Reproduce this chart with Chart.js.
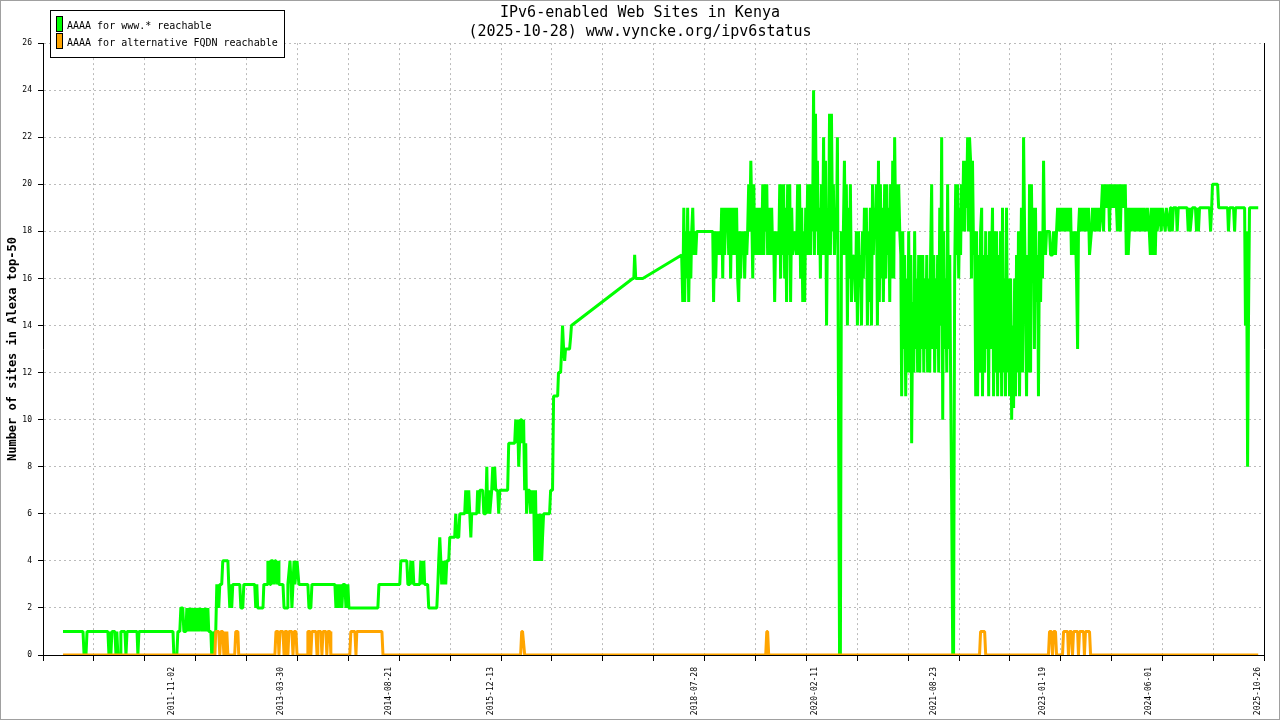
<!DOCTYPE html>
<html>
<head>
<meta charset="utf-8">
<title>IPv6-enabled Web Sites in Kenya</title>
<script src="https://cdn.jsdelivr.net/npm/chart.js@4.4.1/dist/chart.umd.min.js"></script>
<style>
  html, body { margin: 0; padding: 0; background: #fff; }
  canvas { display: block; }
</style>
</head>
<body>
<canvas id="myChart" width="1280" height="720"></canvas>
<script>
const titleLines = ['IPv6-enabled Web Sites in Kenya', '(2025-10-28) www.vyncke.org/ipv6status']
const yTitle = 'Number of sites in Alexa top-50'
const seriesLabels = ['AAAA for www.* reachable', 'AAAA for alternative FQDN reachable']
const seriesColors = ['#00ff00', '#ffa500']
const dateLabels = ['2011-11-02', '2013-03-30', '2014-08-21', '2015-12-13', '2018-07-28', '2020-02-11', '2021-08-23', '2023-01-19', '2024-06-01', '2025-10-26']
const axisStart = '2010-03-07'
const axisEnd = '2025-11-24'
const gridSteps = 24

const wwwDates = [
  '2010-06-09','2010-09-11','2010-09-16','2010-09-25','2010-09-30','2011-01-06','2011-01-11','2011-01-16','2011-01-20','2011-01-25',
  '2011-02-08','2011-02-13','2011-02-17','2011-02-22','2011-03-04','2011-03-08','2011-03-27','2011-04-01','2011-04-06','2011-05-23',
  '2011-05-27','2011-06-01','2011-11-08','2011-11-12','2011-11-26','2011-12-01','2011-12-10','2011-12-15','2011-12-24','2011-12-29',
  '2012-01-08','2012-01-12','2012-01-17','2012-01-26','2012-01-31','2012-02-05','2012-02-14','2012-02-19','2012-02-23','2012-03-04',
  '2012-03-08','2012-03-13','2012-03-23','2012-03-27','2012-04-01','2012-04-10','2012-04-15','2012-04-20','2012-04-24','2012-05-04',
  '2012-05-08','2012-05-13','2012-05-18','2012-05-23','2012-05-27','2012-06-01','2012-06-10','2012-06-15','2012-06-24','2012-06-29',
  '2012-07-23','2012-07-27','2012-08-01','2012-08-06','2012-08-10','2012-08-15','2012-09-17','2012-09-22','2012-10-01','2012-10-06',
  '2012-11-26','2012-12-01','2012-12-06','2012-12-10','2013-01-04','2013-01-08','2013-01-23','2013-01-27','2013-02-06','2013-02-10',
  '2013-02-20','2013-02-24','2013-03-01','2013-03-06','2013-03-11','2013-03-16','2013-03-20','2013-04-08','2013-04-13','2013-04-27',
  '2013-05-01','2013-05-11','2013-05-16','2013-05-20','2013-05-25','2013-05-30','2013-06-03','2013-06-13','2013-06-17','2013-06-22',
  '2013-08-03','2013-08-08','2013-08-17','2013-08-22','2013-12-08','2013-12-13','2013-12-17','2013-12-22','2013-12-27','2013-12-31',
  '2014-01-05','2014-01-10','2014-01-15','2014-01-24','2014-01-29','2014-02-07','2014-02-12','2014-06-28','2014-07-03','2014-10-09',
  '2014-10-14','2014-11-11','2014-11-16','2014-11-25','2014-11-30','2014-12-05','2014-12-09','2014-12-14','2015-01-11','2015-01-16',
  '2015-01-25','2015-01-30','2015-02-03','2015-02-17','2015-02-22','2015-04-01','2015-04-06','2015-04-10','2015-04-15','2015-04-20',
  '2015-04-24','2015-04-29','2015-05-04','2015-05-08','2015-05-13','2015-05-18','2015-05-27','2015-06-01','2015-06-24','2015-06-29',
  '2015-07-04','2015-07-13','2015-07-18','2015-08-10','2015-08-15','2015-08-24','2015-08-29','2015-09-03','2015-09-08','2015-09-12',
  '2015-10-06','2015-10-10','2015-10-15','2015-10-20','2015-11-03','2015-11-08','2015-11-17','2015-11-22','2015-11-26','2015-12-01',
  '2015-12-06','2015-12-15','2015-12-20','2015-12-24','2015-12-29','2016-01-03','2016-01-12','2016-01-17','2016-01-22','2016-02-28',
  '2016-03-04','2016-04-01','2016-04-06','2016-04-10','2016-04-15','2016-04-20','2016-04-24','2016-04-29','2016-05-04','2016-05-08',
  '2016-05-13','2016-05-18','2016-05-23','2016-05-27','2016-06-01','2016-06-10','2016-06-15','2016-06-20','2016-06-24','2016-06-29',
  '2016-07-04','2016-07-08','2016-07-13','2016-07-18','2016-07-23','2016-07-27','2016-08-01','2016-08-06','2016-08-10','2016-08-15',
  '2016-09-12','2016-09-17','2016-09-26','2016-10-01','2016-10-20','2016-10-24','2016-11-03','2016-11-08','2016-11-12','2016-11-17',
  '2016-11-22','2016-11-26','2016-12-15','2016-12-20','2016-12-24','2017-10-08','2017-10-13','2017-10-17','2017-10-22','2017-11-24',
  '2018-05-26','2018-05-31','2018-06-05','2018-06-09','2018-06-14','2018-06-19','2018-06-23','2018-06-28','2018-07-03','2018-07-08',
  '2018-07-12','2018-07-17','2018-07-22','2018-07-26','2018-07-31','2018-08-05','2018-10-19','2018-10-23','2018-10-28','2018-11-02',
  '2018-11-07','2018-11-11','2018-11-21','2018-11-25','2018-11-30','2018-12-05','2018-12-09','2018-12-14','2018-12-19','2018-12-23',
  '2018-12-28','2019-01-02','2019-01-07','2019-01-11','2019-01-16','2019-01-21','2019-01-25','2019-01-30','2019-02-04','2019-02-08',
  '2019-02-13','2019-02-18','2019-02-23','2019-02-27','2019-03-04','2019-03-09','2019-03-14','2019-03-18','2019-03-23','2019-03-28',
  '2019-04-01','2019-04-06','2019-04-11','2019-04-16','2019-04-20','2019-04-25','2019-04-30','2019-05-04','2019-05-09','2019-05-14',
  '2019-05-18','2019-05-23','2019-05-28','2019-06-01','2019-06-06','2019-06-11','2019-06-16','2019-06-20','2019-06-25','2019-06-30',
  '2019-07-04','2019-07-09','2019-07-14','2019-07-18','2019-07-23','2019-07-28','2019-08-01','2019-08-06','2019-08-11','2019-08-16',
  '2019-08-20','2019-08-25','2019-08-30','2019-09-03','2019-09-08','2019-09-13','2019-09-17','2019-09-22','2019-09-27','2019-10-01',
  '2019-10-06','2019-10-11','2019-10-16','2019-10-20','2019-10-25','2019-10-30','2019-11-08','2019-11-17','2019-11-22','2019-11-27',
  '2019-12-01','2019-12-06','2019-12-11','2019-12-16','2019-12-20','2019-12-25','2019-12-30','2020-01-03','2020-01-08','2020-01-12',
  '2020-01-17','2020-01-22','2020-01-26','2020-01-31','2020-02-05','2020-02-09','2020-02-14','2020-02-19','2020-02-23','2020-02-28',
  '2020-03-04','2020-03-08','2020-03-13','2020-03-18','2020-03-23','2020-03-27','2020-04-01','2020-04-06','2020-04-10','2020-04-15',
  '2020-04-20','2020-04-24','2020-04-29','2020-05-04','2020-05-08','2020-05-13','2020-05-18','2020-05-23','2020-05-27','2020-06-01',
  '2020-06-06','2020-06-10','2020-06-15','2020-06-20','2020-06-24','2020-06-29','2020-07-04','2020-07-08','2020-07-13','2020-07-18',
  '2020-07-23','2020-07-27','2020-08-01','2020-08-06','2020-08-10','2020-08-15','2020-08-20','2020-08-24','2020-08-29','2020-09-03',
  '2020-09-08','2020-09-12','2020-09-17','2020-09-22','2020-09-26','2020-10-01','2020-10-06','2020-10-10','2020-10-15','2020-10-20',
  '2020-10-24','2020-10-29','2020-11-03','2020-11-08','2020-11-12','2020-11-17','2020-11-22','2020-11-26','2020-12-01','2020-12-06',
  '2020-12-10','2020-12-15','2020-12-20','2020-12-24','2020-12-29','2021-01-04','2021-01-09','2021-01-14','2021-01-18','2021-01-23',
  '2021-01-28','2021-02-01','2021-02-06','2021-02-11','2021-02-16','2021-02-20','2021-02-25','2021-03-02','2021-03-07','2021-03-11',
  '2021-03-16','2021-03-21','2021-03-25','2021-03-30','2021-04-04','2021-04-08','2021-04-13','2021-04-18','2021-04-23','2021-04-27',
  '2021-05-02','2021-05-07','2021-05-11','2021-05-16','2021-05-21','2021-05-25','2021-05-30','2021-06-04','2021-06-08','2021-06-13',
  '2021-06-18','2021-06-23','2021-06-27','2021-07-02','2021-07-07','2021-07-11','2021-07-16','2021-07-21','2021-07-25','2021-07-30',
  '2021-08-04','2021-08-08','2021-08-13','2021-08-18','2021-08-23','2021-08-27','2021-09-01','2021-09-06','2021-09-10','2021-09-15',
  '2021-09-20','2021-09-24','2021-09-29','2021-10-04','2021-10-08','2021-10-13','2021-10-18','2021-10-23','2021-10-27','2021-11-01',
  '2021-11-06','2021-11-10','2021-11-15','2021-11-20','2021-11-24','2021-11-29','2021-12-04','2021-12-08','2021-12-13','2021-12-18',
  '2021-12-23','2021-12-27','2021-12-31','2022-01-05','2022-01-10','2022-01-15','2022-01-19','2022-01-24','2022-01-29','2022-02-02',
  '2022-02-07','2022-02-12','2022-02-16','2022-02-21','2022-02-26','2022-03-03','2022-03-08','2022-03-12','2022-03-17','2022-03-22',
  '2022-03-26','2022-03-31','2022-04-05','2022-04-09','2022-04-14','2022-04-19','2022-04-24','2022-04-28','2022-05-03','2022-05-08',
  '2022-05-12','2022-05-17','2022-05-22','2022-05-26','2022-05-31','2022-06-05','2022-06-09','2022-06-14','2022-06-19','2022-06-24',
  '2022-06-28','2022-07-03','2022-07-08','2022-07-12','2022-07-17','2022-07-22','2022-07-26','2022-07-31','2022-08-05','2022-08-09',
  '2022-08-14','2022-08-19','2022-08-24','2022-08-28','2022-09-02','2022-09-07','2022-09-11','2022-09-16','2022-09-21','2022-09-25',
  '2022-09-30','2022-10-05','2022-10-09','2022-10-14','2022-10-19','2022-10-24','2022-10-28','2022-11-02','2022-11-07','2022-11-11',
  '2022-11-16','2022-11-21','2022-11-25','2022-11-30','2022-12-05','2022-12-09','2022-12-14','2022-12-19','2022-12-24','2022-12-28',
  '2023-01-02','2023-01-07','2023-01-11','2023-01-16','2023-01-21','2023-01-25','2023-01-30','2023-02-04','2023-02-18','2023-02-23',
  '2023-03-04','2023-03-09','2023-03-18','2023-03-23','2023-03-28','2023-04-01','2023-04-06','2023-04-11','2023-04-16','2023-04-20',
  '2023-04-25','2023-05-04','2023-05-09','2023-05-14','2023-05-18','2023-05-23','2023-05-28','2023-06-01','2023-06-06','2023-06-16',
  '2023-06-20','2023-06-25','2023-06-30','2023-07-04','2023-07-09','2023-07-14','2023-07-23','2023-07-28','2023-08-06','2023-08-11',
  '2023-08-20','2023-08-25','2023-09-03','2023-09-08','2023-09-13','2023-09-22','2023-09-27','2023-10-06','2023-10-11','2023-10-20',
  '2023-10-25','2023-10-30','2023-11-03','2023-11-08','2023-11-13','2023-11-17','2023-11-22','2023-11-27','2023-12-01','2023-12-06',
  '2023-12-11','2023-12-20','2023-12-25','2023-12-30','2024-01-03','2024-01-08','2024-01-12','2024-01-17','2024-01-22','2024-01-26',
  '2024-01-31','2024-02-05','2024-02-09','2024-02-14','2024-02-19','2024-02-23','2024-02-28','2024-03-04','2024-03-08','2024-03-13',
  '2024-03-23','2024-03-27','2024-04-06','2024-04-10','2024-04-20','2024-04-24','2024-05-04','2024-05-08','2024-05-18','2024-05-23',
  '2024-06-01','2024-06-06','2024-06-10','2024-06-15','2024-06-20','2024-06-24','2024-06-29','2024-07-04','2024-07-08','2024-07-18',
  '2024-07-27','2024-08-01','2024-08-15','2024-08-20','2024-09-03','2024-09-08','2024-09-12','2024-09-17','2024-09-22','2024-10-06',
  '2024-10-10','2024-10-15','2024-11-26','2024-12-01','2024-12-06','2024-12-10','2024-12-20','2025-01-04','2025-01-09','2025-01-14',
  '2025-01-18','2025-01-23','2025-03-11','2025-03-16','2025-03-21','2025-03-25','2025-04-18','2025-04-23','2025-06-04','2025-06-08',
  '2025-06-13','2025-07-02','2025-07-07','2025-07-11','2025-08-23','2025-08-27','2025-09-01','2025-09-06','2025-09-10','2025-09-15','2025-10-26'
]
const wwwValues = [
  1,1,0,0,1,1,0,1,0,1,
  1,0,1,0,0,1,1,0,1,1,
  0,1,1,0,0,1,1,2,2,1,
  1,2,1,2,1,2,1,2,1,2,
  1,2,1,2,1,2,1,2,1,1,
  0,1,0,1,1,3,2,3,3,4,
  4,3,2,3,2,3,3,2,2,3,
  3,2,3,2,2,3,3,4,3,4,
  4,3,4,4,3,4,3,3,2,2,
  3,4,3,2,3,4,3,4,4,3,
  3,2,2,3,3,2,3,2,3,2,
  3,2,3,3,2,3,2,2,3,3,
  4,4,3,3,4,3,4,3,3,4,
  3,4,3,3,2,2,3,4,5,4,
  3,4,3,4,3,4,4,5,5,6,
  5,5,6,6,7,6,7,6,5,6,
  6,7,6,7,7,6,6,8,6,7,
  6,7,8,7,8,7,7,6,7,7,
  9,9,10,9,10,8,9,10,10,9,
  10,7,9,6,7,7,6,7,6,7,
  4,7,4,6,5,4,6,4,5,6,
  6,7,7,11,11,12,12,13,14,13,
  12.5,13,13,13.5,14,16,16,17,16,16,
  17,15,19,15,18,16,19,15,18,16,
  18,19,17,18,17,18,18,15,18,16,
  18,17,18,17,19,16,19,17,19,18,
  19,17,19,16,19,17,19,18,17,19,
  16,15,18,16,18,17,18,16,18,17,
  18,20,18,21,19,16,20,17,19,17,
  19,18,17,19,17,20,17,20,18,20,
  17,19,18,17,19,17,18,15,18,17,
  18,17,20,16,20,17,20,16,19,15,
  20,17,20,15,19,17,18,17,20,17,
  20,16,19,15,18,15,19,17,20,17,
  20,17,20,18,24,17,23,18,21,17,
  19,16,20,17,22,17,21,14,18,17,
  23,17,23,18,20,17,19,18,22,11,
  0,0,18,17,18,21,17,20,14,19,
  16,20,15,17,16,17,15,18,14,18,
  16,17,14,18,16,19,17,19,14,18,
  15,19,14,20,17,19,18,20,14,21,
  15,20,16,19,15,20,16,20,17,19,
  15,20,16,21,16,22,18,20,18,20,
  18,17,11,18,13,17,11,16,12,18,
  12,17,9,15,12,18,13,16,12,17,
  12,17,13,17,12,16,13,17,12,16,
  12,17,20,13,17,12,16,13,17,12,
  19,14,22,10,18,13,16,12,20,13,
  17,12,6.5,0,0,16,20,17,20,16,
  19,17,20,18,21,18,21,19,22,18,
  22,21,16,21,17,18,11,18,11,17,
  12,18,19,11,17,12,18,13,17,11,
  18,13,17,19,11,18,12,18,11,17,
  12,18,11,19,12,16,11,19,12,16,
  11,16,10,14,10.5,16,11,17,12,18,
  11,16,19,12,22,18,15,11,17,12,
  20,12,20,16,19,13,19,15,17,11,
  18,15,18,16,21,18,17,18,18,17,
  17,18,17,18,19,18,19,18,19,18,
  19,18,19,18,19,18,19,17,18,17,
  18,16,13,18,19,18,19,18,19,18,
  19,17,18,19,18,19,18,19,18,19,
  20,18,20,19,20,19,20,18,20,19,
  20,19,20,19,18,20,19,18,20,19,
  20,19,20,17,19,17,18,19,18,19,
  18,19,18,19,18,19,18,19,18,19,
  18,17,19,17,18,19,17,19,18,19,
  18,19,18,19,18,19,19,18,19,19,
  18,19,19,18,19,18,19,19,18,19,
  18,19,19,18,19,20,20,19,19,18,
  19,19,18,19,19,14,18,8,14,19,19
]

const altDates = [
  '2010-06-09','2012-05-23','2012-05-27','2012-06-10','2012-06-15','2012-06-20','2012-06-29','2012-07-04','2012-07-08','2012-07-13',
  '2012-07-18','2012-07-23','2012-08-24','2012-08-29','2012-09-08','2012-09-12','2013-03-01','2013-03-06','2013-03-16','2013-03-20',
  '2013-03-25','2013-04-08','2013-04-13','2013-04-17','2013-04-27','2013-05-01','2013-05-06','2013-05-20','2013-05-25','2013-05-30',
  '2013-06-08','2013-06-13','2013-07-30','2013-08-03','2013-08-13','2013-08-17','2013-08-22','2013-09-10','2013-09-15','2013-09-19',
  '2013-10-03','2013-10-08','2013-10-13','2013-10-27','2013-10-31','2013-11-05','2013-11-15','2013-11-19','2014-02-16','2014-02-21',
  '2014-03-12','2014-03-17','2014-03-21','2014-07-17','2014-07-22','2016-04-29','2016-05-04','2016-05-08','2016-05-13','2016-05-18',
  '2019-06-25','2019-06-30','2019-07-04','2019-07-09','2022-03-26','2022-03-31','2022-04-19','2022-04-24','2023-02-13','2023-02-18',
  '2023-02-27','2023-03-04','2023-03-09','2023-03-18','2023-03-23','2023-04-20','2023-04-25','2023-05-14','2023-05-18','2023-05-23',
  '2023-06-01','2023-06-06','2023-06-11','2023-06-30','2023-07-04','2023-07-09','2023-07-28','2023-08-01','2023-08-06','2023-08-25',
  '2023-08-30','2025-10-26'
]
const altValues = [
  0,0,1,1,0,1,1,0,1,0,
  1,0,0,1,1,0,0,1,1,0,
  1,1,0,1,1,0,1,1,0,1,
  1,0,0,1,1,0,1,1,0,1,
  1,0,1,1,0,1,1,0,0,1,
  1,0,1,1,0,0,1,1,0.5,0,
  0,1,1,0,0,1,1,0,0,1,
  1,0,1,1,0,0,1,1,0,1,
  1,0,1,1,0,1,1,0,1,1,
  0,0
]

const mono = "'DejaVu Sans Mono', 'Liberation Mono', monospace"
const labelFor = new Map(dateLabels.map(d => [Date.parse(d), d]))
const toPoints = (dates, values) => dates.map((d, i) => ({ x: Date.parse(d), y: values[i] }))

const framePlugin = {
  id: 'frame',
  afterDraw: chart => {
    const c = chart.ctx
    c.save()
    c.strokeStyle = '#a0a0a0'
    c.lineWidth = 1
    c.strokeRect(0.5, 0.5, chart.width - 1, chart.height - 1)
    // legend box, top left
    c.fillStyle = '#fff'
    c.fillRect(50.5, 10.5, 234, 47)
    c.strokeStyle = '#000'
    c.strokeRect(50.5, 10.5, 234, 47)
    c.font = '10px ' + mono
    c.textBaseline = 'middle'
    chart.data.datasets.forEach((ds, i) => {
      const cy = 26 + i * 17
      c.fillStyle = ds.borderColor
      c.fillRect(56.5, cy - 9.5, 6, 15)
      c.strokeRect(56.5, cy - 9.5, 6, 15)
      c.fillStyle = '#000'
      c.fillText(ds.label, 67, cy)
    })
    c.restore()
  }
}

const gridColor = '#bbbbbb'
const hidden = 'rgba(0,0,0,0)'

new Chart(document.getElementById('myChart').getContext('2d'), {
  type: 'line',
  data: {
    datasets: [
      { label: seriesLabels[0], data: toPoints(wwwDates, wwwValues), borderColor: seriesColors[0], backgroundColor: seriesColors[0], order: 1 },
      { label: seriesLabels[1], data: toPoints(altDates, altValues), borderColor: seriesColors[1], backgroundColor: seriesColors[1], order: 0 }
    ]
  },
  options: {
    responsive: false,
    animation: false,
    devicePixelRatio: 1,
    layout: { padding: 0 },
    elements: {
      line: { borderWidth: 3, tension: 0, borderJoinStyle: 'bevel', borderCapStyle: 'butt' },
      point: { radius: 0, hoverRadius: 0 }
    },
    plugins: {
      legend: { display: false },
      tooltip: { enabled: false },
      title: {
        display: true,
        text: titleLines,
        color: '#000',
        font: { family: mono, size: 15, weight: 'normal', lineHeight: 1.27 },
        padding: { top: 4, bottom: 1 }
      }
    },
    scales: {
      x: {
        type: 'linear',
        min: Date.parse(axisStart),
        max: Date.parse(axisEnd),
        afterBuildTicks: axis => {
          const lo = Date.parse(axisStart), hi = Date.parse(axisEnd)
          const t = []
          for (let i = 0; i <= gridSteps; i++) t.push({ value: lo + (hi - lo) * i / gridSteps })
          dateLabels.forEach(d => t.push({ value: Date.parse(d), dated: true }))
          t.sort((a, b) => a.value - b.value)
          axis.ticks = t
        },
        afterFit: axis => { axis.height = 65 },
        ticks: {
          autoSkip: false,
          minRotation: 90,
          maxRotation: 90,
          padding: 6,
          color: '#000',
          font: { family: mono, size: 8 },
          callback: v => labelFor.get(v) || ''
        },
        grid: {
          color: c => (c.tick && c.tick.dated) ? hidden : gridColor,
          tickColor: c => (c.tick && c.tick.dated) ? hidden : '#000',
          tickLength: 6,
          tickWidth: 1,
          tickBorderDash: [],
          lineWidth: 1
        },
        border: { color: '#000', width: 1, dash: [2, 3] }
      },
      y: {
        min: 0,
        max: 26,
        afterFit: axis => { axis.width = 43 },
        ticks: { stepSize: 2, padding: 6, color: '#000', font: { family: mono, size: 8 } },
        grid: { color: gridColor, tickColor: '#000', tickLength: 5, tickBorderDash: [], lineWidth: 1 },
        border: { color: '#000', width: 1, dash: [2, 3] },
        title: {
          display: true,
          text: yTitle,
          color: '#000',
          font: { family: mono, size: 12, weight: 'bold' },
          padding: { top: 6, bottom: 0 }
        }
      },
      y2: {
        position: 'right',
        min: 0,
        max: 26,
        afterFit: axis => { axis.width = 15 },
        ticks: { display: false },
        grid: { drawOnChartArea: false, drawTicks: false },
        border: { color: '#000', width: 1 }
      }
    }
  },
  plugins: [framePlugin]
})
</script>
</body>
</html>
